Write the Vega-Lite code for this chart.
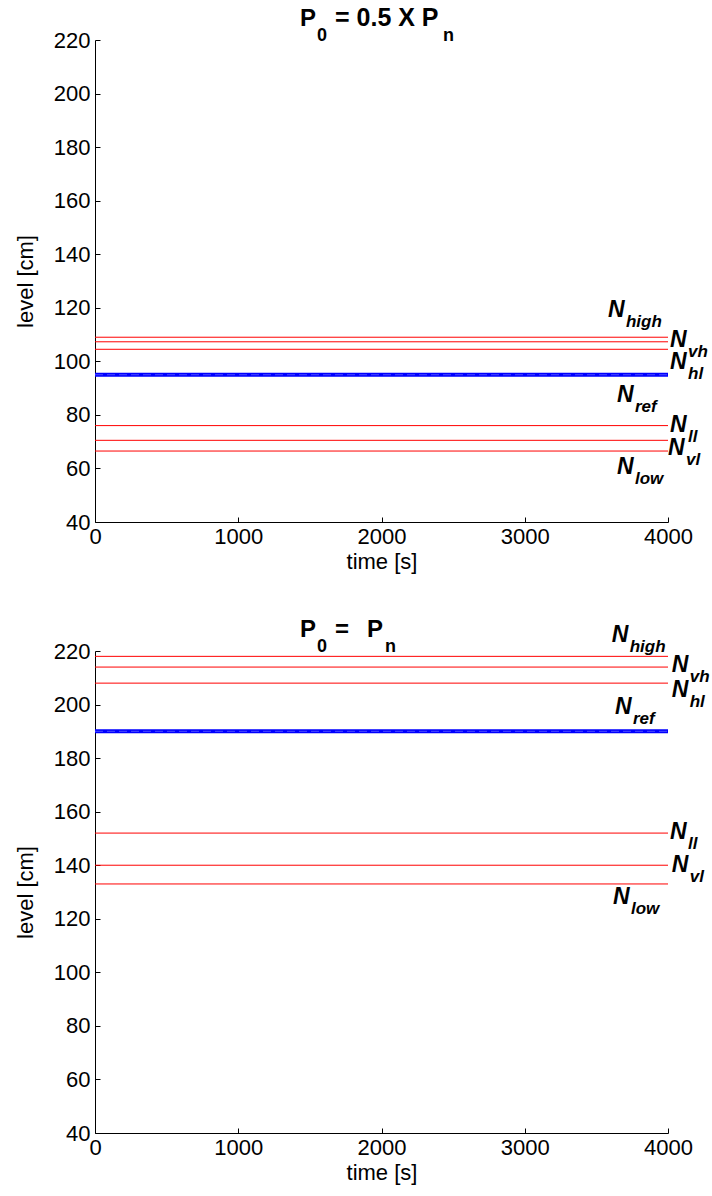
{
  "$schema": "https://vega.github.io/schema/vega-lite/v6.json",
  "autosize": {"type": "none"},
  "padding": {"left": 95, "top": 40, "right": 617, "bottom": 1156},
  "background": "white",
  "config": {
    "view": {"stroke": null},
    "font": "Liberation Sans",
    "axis": {
      "domainColor": "#000000",
      "tickColor": "#000000",
      "labelColor": "#000000",
      "titleColor": "#000000",
      "labelFont": "Liberation Sans",
      "titleFont": "Liberation Sans",
      "labelFontSize": 22,
      "titleFontSize": 22,
      "titleFontWeight": "normal",
      "grid": false,
      "tickSize": -5,
      "labelOverlap": false,
      "labelFlush": false
    }
  },
  "datasets": {
    "top_lines": [
      {"t0": 0, "t1": 4000, "level": 109, "kind": "limit", "name": "N_high"},
      {"t0": 0, "t1": 4000, "level": 107.3, "kind": "limit", "name": "N_vh"},
      {"t0": 0, "t1": 4000, "level": 104.5, "kind": "limit", "name": "N_hl"},
      {"t0": 0, "t1": 4000, "level": 95, "kind": "reference", "name": "N_ref"},
      {"t0": 0, "t1": 4000, "level": 95, "kind": "level", "name": "level"},
      {"t0": 0, "t1": 4000, "level": 76, "kind": "limit", "name": "N_ll"},
      {"t0": 0, "t1": 4000, "level": 70.5, "kind": "limit", "name": "N_vl"},
      {"t0": 0, "t1": 4000, "level": 66.5, "kind": "limit", "name": "N_low"}
    ],
    "top_labels": [
      {"main": "N", "sub": "high", "t": 3581, "level": 116.6},
      {"main": "N", "sub": "vh", "t": 4014, "level": 105.4},
      {"main": "N", "sub": "hl", "t": 4014, "level": 97.3},
      {"main": "N", "sub": "ref", "t": 3644, "level": 84.9},
      {"main": "N", "sub": "ll", "t": 4014, "level": 73.6},
      {"main": "N", "sub": "vl", "t": 4000, "level": 64.9},
      {"main": "N", "sub": "low", "t": 3644, "level": 58.1}
    ],
    "top_title": [
      {"t": 1431, "level": 225.4, "p1": "P", "s1": "0", "p2": "= 0.5 X P", "s2": "n"}
    ],
    "bottom_lines": [
      {"t0": 0, "t1": 4000, "level": 218, "kind": "limit", "name": "N_high"},
      {"t0": 0, "t1": 4000, "level": 214, "kind": "limit", "name": "N_vh"},
      {"t0": 0, "t1": 4000, "level": 208, "kind": "limit", "name": "N_hl"},
      {"t0": 0, "t1": 4000, "level": 190, "kind": "reference", "name": "N_ref"},
      {"t0": 0, "t1": 4000, "level": 190, "kind": "level", "name": "level"},
      {"t0": 0, "t1": 4000, "level": 152, "kind": "limit", "name": "N_ll"},
      {"t0": 0, "t1": 4000, "level": 140, "kind": "limit", "name": "N_vl"},
      {"t0": 0, "t1": 4000, "level": 133, "kind": "limit", "name": "N_low"}
    ],
    "bottom_labels": [
      {"main": "N", "sub": "high", "t": 3607, "level": 223.4},
      {"main": "N", "sub": "vh", "t": 4026, "level": 212.2},
      {"main": "N", "sub": "hl", "t": 4026, "level": 202.8},
      {"main": "N", "sub": "ref", "t": 3630, "level": 196.6},
      {"main": "N", "sub": "ll", "t": 4014, "level": 149.8},
      {"main": "N", "sub": "vl", "t": 4026, "level": 137.3},
      {"main": "N", "sub": "low", "t": 3616, "level": 125.6}
    ],
    "bottom_title": [
      {"t": 1431, "level": 225.4, "p1": "P", "s1": "0", "p2": "=", "p3": "P", "s2": "n"}
    ]
  },
  "spacing": 129,
  "bounds": "flush",
  "vconcat": [
    {
      "width": 573,
      "height": 482,
      "layer": [
        {
          "data": {"name": "top_lines"},
          "transform": [{"filter": "datum.kind == 'limit'"}],
          "mark": {"type": "rule", "color": "#ff0000", "strokeWidth": 1},
          "encoding": {
            "x": {"field": "t0", "type": "quantitative", "scale": {"domain": [0, 4000], "nice": false},
              "axis": {"title": "time [s]", "values": [0, 1000, 2000, 3000, 4000], "format": "d", "labelPadding": 9, "titlePadding": 4}},
            "x2": {"field": "t1"},
            "y": {"field": "level", "type": "quantitative", "scale": {"domain": [40, 220], "nice": false, "zero": false},
              "axis": {"title": "level [cm]", "values": [40, 60, 80, 100, 120, 140, 160, 180, 200, 220], "labelPadding": 10, "titlePadding": 16}}
          }
        },
        {
          "data": {"name": "top_lines"},
          "transform": [{"filter": "datum.kind == 'reference'"}],
          "mark": {"type": "rule", "color": "#0000ff", "strokeWidth": 4},
          "encoding": {
            "x": {"field": "t0", "type": "quantitative"},
            "x2": {"field": "t1"},
            "y": {"field": "level", "type": "quantitative"}
          }
        },
        {
          "data": {"name": "top_lines"},
          "transform": [{"filter": "datum.kind == 'level'"}],
          "mark": {"type": "rule", "color": "#4a4aff", "strokeWidth": 1, "strokeDash": [8, 4]},
          "encoding": {
            "x": {"field": "t0", "type": "quantitative"},
            "x2": {"field": "t1"},
            "y": {"field": "level", "type": "quantitative"}
          }
        },
        {
          "data": {"name": "top_labels"},
          "mark": {"type": "text", "align": "left", "baseline": "alphabetic", "fontSize": 23, "fontWeight": "bold", "fontStyle": "italic", "color": "#000000"},
          "encoding": {
            "x": {"field": "t", "type": "quantitative"},
            "y": {"field": "level", "type": "quantitative"},
            "text": {"field": "main"}
          }
        },
        {
          "data": {"name": "top_labels"},
          "mark": {"type": "text", "align": "left", "baseline": "alphabetic", "dx": 18, "dy": 10, "fontSize": 17, "fontWeight": "bold", "fontStyle": "italic", "color": "#000000"},
          "encoding": {
            "x": {"field": "t", "type": "quantitative"},
            "y": {"field": "level", "type": "quantitative"},
            "text": {"field": "sub"}
          }
        },
        {
          "data": {"name": "top_title"},
          "mark": {"type": "text", "align": "left", "baseline": "alphabetic", "fontSize": 24, "fontWeight": "bold", "color": "#000000"},
          "encoding": {
            "x": {"field": "t", "type": "quantitative"},
            "y": {"field": "level", "type": "quantitative"},
            "text": {"field": "p1"}
          }
        },
        {
          "data": {"name": "top_title"},
          "mark": {"type": "text", "align": "left", "baseline": "alphabetic", "dx": 17, "dy": 15, "fontSize": 18, "fontWeight": "bold", "color": "#000000"},
          "encoding": {
            "x": {"field": "t", "type": "quantitative"},
            "y": {"field": "level", "type": "quantitative"},
            "text": {"field": "s1"}
          }
        },
        {
          "data": {"name": "top_title"},
          "mark": {"type": "text", "align": "left", "baseline": "alphabetic", "dx": 35, "fontSize": 25, "fontWeight": "bold", "color": "#000000"},
          "encoding": {
            "x": {"field": "t", "type": "quantitative"},
            "y": {"field": "level", "type": "quantitative"},
            "text": {"field": "p2"}
          }
        },
        {
          "data": {"name": "top_title"},
          "mark": {"type": "text", "align": "left", "baseline": "alphabetic", "dx": 143, "dy": 15, "fontSize": 18, "fontWeight": "bold", "color": "#000000"},
          "encoding": {
            "x": {"field": "t", "type": "quantitative"},
            "y": {"field": "level", "type": "quantitative"},
            "text": {"field": "s2"}
          }
        }
      ]
    },
    {
      "width": 573,
      "height": 482,
      "layer": [
        {
          "data": {"name": "bottom_lines"},
          "transform": [{"filter": "datum.kind == 'limit'"}],
          "mark": {"type": "rule", "color": "#ff0000", "strokeWidth": 1},
          "encoding": {
            "x": {"field": "t0", "type": "quantitative", "scale": {"domain": [0, 4000], "nice": false},
              "axis": {"title": "time [s]", "values": [0, 1000, 2000, 3000, 4000], "format": "d", "labelPadding": 9, "titlePadding": 4}},
            "x2": {"field": "t1"},
            "y": {"field": "level", "type": "quantitative", "scale": {"domain": [40, 220], "nice": false, "zero": false},
              "axis": {"title": "level [cm]", "values": [40, 60, 80, 100, 120, 140, 160, 180, 200, 220], "labelPadding": 10, "titlePadding": 16}}
          }
        },
        {
          "data": {"name": "bottom_lines"},
          "transform": [{"filter": "datum.kind == 'reference'"}],
          "mark": {"type": "rule", "color": "#0000ff", "strokeWidth": 4},
          "encoding": {
            "x": {"field": "t0", "type": "quantitative"},
            "x2": {"field": "t1"},
            "y": {"field": "level", "type": "quantitative"}
          }
        },
        {
          "data": {"name": "bottom_lines"},
          "transform": [{"filter": "datum.kind == 'level'"}],
          "mark": {"type": "rule", "color": "#4a4aff", "strokeWidth": 1, "strokeDash": [8, 4]},
          "encoding": {
            "x": {"field": "t0", "type": "quantitative"},
            "x2": {"field": "t1"},
            "y": {"field": "level", "type": "quantitative"}
          }
        },
        {
          "data": {"name": "bottom_labels"},
          "mark": {"type": "text", "align": "left", "baseline": "alphabetic", "fontSize": 23, "fontWeight": "bold", "fontStyle": "italic", "color": "#000000"},
          "encoding": {
            "x": {"field": "t", "type": "quantitative"},
            "y": {"field": "level", "type": "quantitative"},
            "text": {"field": "main"}
          }
        },
        {
          "data": {"name": "bottom_labels"},
          "mark": {"type": "text", "align": "left", "baseline": "alphabetic", "dx": 18, "dy": 10, "fontSize": 17, "fontWeight": "bold", "fontStyle": "italic", "color": "#000000"},
          "encoding": {
            "x": {"field": "t", "type": "quantitative"},
            "y": {"field": "level", "type": "quantitative"},
            "text": {"field": "sub"}
          }
        },
        {
          "data": {"name": "bottom_title"},
          "mark": {"type": "text", "align": "left", "baseline": "alphabetic", "fontSize": 24, "fontWeight": "bold", "color": "#000000"},
          "encoding": {
            "x": {"field": "t", "type": "quantitative"},
            "y": {"field": "level", "type": "quantitative"},
            "text": {"field": "p1"}
          }
        },
        {
          "data": {"name": "bottom_title"},
          "mark": {"type": "text", "align": "left", "baseline": "alphabetic", "dx": 17, "dy": 15, "fontSize": 18, "fontWeight": "bold", "color": "#000000"},
          "encoding": {
            "x": {"field": "t", "type": "quantitative"},
            "y": {"field": "level", "type": "quantitative"},
            "text": {"field": "s1"}
          }
        },
        {
          "data": {"name": "bottom_title"},
          "mark": {"type": "text", "align": "left", "baseline": "alphabetic", "dx": 35, "fontSize": 24, "fontWeight": "bold", "color": "#000000"},
          "encoding": {
            "x": {"field": "t", "type": "quantitative"},
            "y": {"field": "level", "type": "quantitative"},
            "text": {"field": "p2"}
          }
        },
        {
          "data": {"name": "bottom_title"},
          "mark": {"type": "text", "align": "left", "baseline": "alphabetic", "dx": 67, "fontSize": 24, "fontWeight": "bold", "color": "#000000"},
          "encoding": {
            "x": {"field": "t", "type": "quantitative"},
            "y": {"field": "level", "type": "quantitative"},
            "text": {"field": "p3"}
          }
        },
        {
          "data": {"name": "bottom_title"},
          "mark": {"type": "text", "align": "left", "baseline": "alphabetic", "dx": 85, "dy": 15, "fontSize": 18, "fontWeight": "bold", "color": "#000000"},
          "encoding": {
            "x": {"field": "t", "type": "quantitative"},
            "y": {"field": "level", "type": "quantitative"},
            "text": {"field": "s2"}
          }
        }
      ]
    }
  ]
}
